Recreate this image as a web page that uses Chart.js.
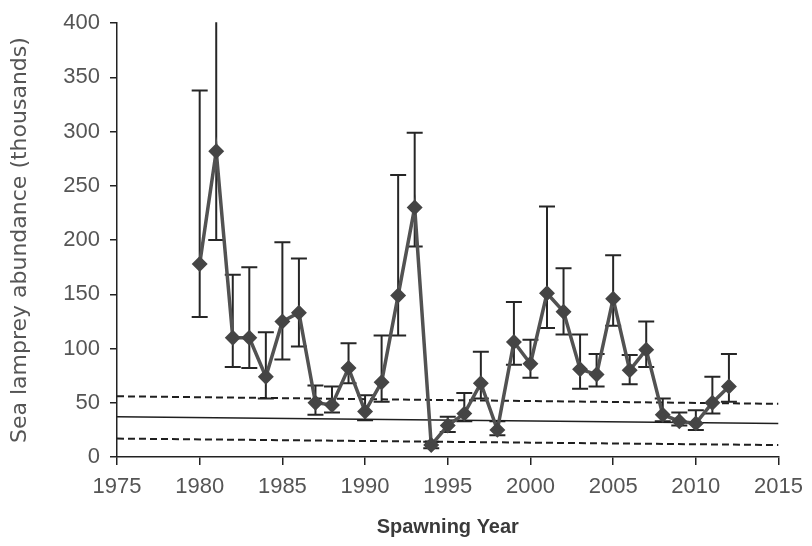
<!DOCTYPE html>
<html>
<head>
<meta charset="utf-8">
<script src="https://cdn.jsdelivr.net/npm/chart.js@4.4.1/dist/chart.umd.min.js"></script>
<style>
  html, body { margin: 0; padding: 0; background: #fff; }
  #wrap { width: 812px; height: 546px; }
</style>
</head>
<body>
<div id="wrap"><canvas id="lampreyChart" width="812" height="546"></canvas></div>
<script>
const years = [1980, 1981, 1982, 1983, 1984, 1985, 1986, 1987, 1988, 1989, 1990,
  1991, 1992, 1993, 1994, 1995, 1996, 1997, 1998, 1999, 2000, 2001, 2002, 2003,
  2004, 2005, 2006, 2007, 2008, 2009, 2010, 2011, 2012];
const abundance = [178, 282, 110, 110, 74, 125, 133, 50, 48, 82, 42,
  69, 149, 230, 11, 29, 40, 68, 25, 106, 86, 151, 134, 81,
  76, 146, 80, 99, 39, 33, 31, 50, 65];
const upperCI = [338, 420, 168, 175, 115, 198, 183, 66, 65, 105, 57,
  112, 260, 299, 14, 37, 59, 97, 33, 143, 108, 231, 174, 113,
  95, 186, 94, 125, 54, 41, 43, 74, 95];
const lowerCI = [129, 200, 83, 82, 54, 90, 102, 39, 41, 68, 34,
  51, 112, 194, 8, 23, 33, 54, 20, 85, 73, 119, 113, 63,
  65, 121, 67, 83, 33, 29, 25, 40, 51];

// target line and its bounds (from 1975 to 2015)
const targetYears = [1975, 2015];
const targetLine = [37, 31];
const targetUpper = [56, 49];
const targetLower = [17, 11];

const xTicks = [1975, 1980, 1985, 1990, 1995, 2000, 2005, 2010, 2015];
const yTicks = [0, 50, 100, 150, 200, 250, 300, 350, 400];

const toPoints = (xs, ys) => xs.map((x, i) => ({ x: x, y: ys[i] }));

// error bars drawn through the chart scales
const errorBars = {
  id: 'errorBars',
  beforeDatasetsDraw(chart) {
    const { ctx, chartArea, scales: { x, y } } = chart;
    ctx.save();
    ctx.beginPath();
    ctx.rect(chartArea.left, chartArea.top - 1, chartArea.width, chartArea.height + 1);
    ctx.clip();
    ctx.strokeStyle = '#262626';
    ctx.lineWidth = 2;
    years.forEach((yr, i) => {
      const px = x.getPixelForValue(yr);
      const top = y.getPixelForValue(upperCI[i]);
      const bot = y.getPixelForValue(lowerCI[i]);
      ctx.beginPath();
      ctx.moveTo(px, bot);
      ctx.lineTo(px, top);
      if (upperCI[i] <= y.max) {
        ctx.moveTo(px - 8, top);
        ctx.lineTo(px + 8, top);
      }
      ctx.moveTo(px - 8, bot);
      ctx.lineTo(px + 8, bot);
      ctx.stroke();
    });
    ctx.restore();
  }
};

const ctx = document.getElementById('lampreyChart').getContext('2d');

new Chart(ctx, {
  type: 'line',
  data: {
    datasets: [
      {
        label: 'Abundance',
        data: toPoints(years, abundance),
        borderColor: '#525252',
        borderWidth: 3.5,
        pointStyle: 'rectRot',
        pointRadius: 5.5,
        pointBackgroundColor: '#454545',
        pointBorderColor: '#454545',
        tension: 0,
        order: 1
      },
      {
        label: 'Target',
        data: toPoints(targetYears, targetLine),
        borderColor: '#1f1f1f',
        borderWidth: 1.5,
        pointRadius: 0,
        order: 2
      },
      {
        label: 'Upper',
        data: toPoints(targetYears, targetUpper),
        borderColor: '#1f1f1f',
        borderWidth: 2,
        borderDash: [7, 4],
        pointRadius: 0,
        order: 2
      },
      {
        label: 'Lower',
        data: toPoints(targetYears, targetLower),
        borderColor: '#1f1f1f',
        borderWidth: 2,
        borderDash: [7, 4],
        pointRadius: 0,
        order: 2
      }
    ]
  },
  options: {
    responsive: false,
    animation: false,
    layout: {
      padding: { top: 22, right: 31, bottom: 0, left: 0 }
    },
    plugins: {
      legend: { display: false },
      tooltip: { enabled: false }
    },
    scales: {
      x: {
        type: 'linear',
        min: 1975,
        max: 2015,
        afterBuildTicks: scale => { scale.ticks = xTicks.map(v => ({ value: v })); },
        afterFit: scale => { scale.height = 89; },
        border: { display: true, color: '#222', width: 1.5 },
        grid: { drawOnChartArea: false, drawTicks: true, tickLength: 8, color: '#222', lineWidth: 1.5 },
        ticks: {
          callback: v => String(v),
          padding: 9,
          maxRotation: 0,
          color: '#555',
          font: { family: 'Liberation Sans', size: 22 }
        },
        title: {
          display: true,
          text: 'Spawning Year',
          color: '#3a3a3a',
          padding: { top: 0, bottom: 7 },
          font: { family: 'Liberation Sans', size: 20, weight: 'bold' }
        }
      },
      y: {
        min: 0,
        max: 400,
        afterBuildTicks: scale => { scale.ticks = yTicks.map(v => ({ value: v })); },
        afterFit: scale => { scale.width = 117; },
        border: { display: true, color: '#222', width: 1.5 },
        grid: { drawOnChartArea: false, drawTicks: true, tickLength: 7, color: '#222', lineWidth: 1.5 },
        ticks: {
          padding: 10,
          color: '#555',
          font: { family: 'Liberation Sans', size: 22 }
        },
        title: {
          display: true,
          text: 'Sea lamprey abundance (thousands)',
          color: '#555',
          padding: { top: 7, bottom: 0 },
          font: { family: 'DejaVu Sans', size: 22 }
        }
      }
    }
  },
  plugins: [errorBars]
});
</script>
</body>
</html>
